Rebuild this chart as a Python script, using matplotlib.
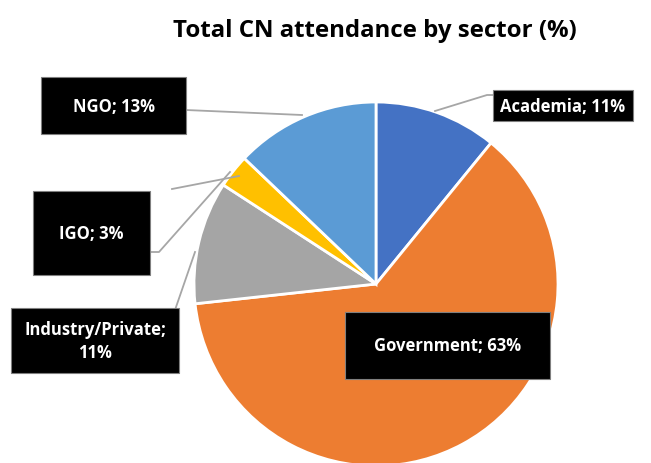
import matplotlib.pyplot as plt
from matplotlib.patches import Rectangle

plt.rcParams.update({
    "font.family": ["Open Sans", "DejaVu Sans"],
    "font.weight": "bold",
})

# attendance share per sector, clockwise from 12 o'clock
sectors = ["Academia", "Government", "Industry/Private", "IGO", "NGO"]
shares = [11, 63, 11, 3, 13]
colors = ["#4472C4", "#ED7D31", "#A5A5A5", "#FFC000", "#5B9BD5"]
label_text = ["Academia; 11%", "Government; 63%", "Industry/Private;\n11%",
              "IGO; 3%", "NGO; 13%"]

# label boxes in pixel space: x0, y0 (top), width, height
boxes = [(493, 91, 140, 31), (345, 313, 205, 67), (11, 309, 168, 65),
         (33, 192, 117, 84), (41, 78, 145, 57)]
# leader lines (pixel polylines)
leaders = [
    [(435, 112), (487, 96), (493, 96)],
    [(165, 340), (195, 253)],
    [(150, 253), (159, 253), (230, 173)],
    [(186, 111), (302, 116)],
    [(172, 190), (239, 177)],
]

W, H = 651, 464
fig = plt.figure(figsize=(W / 100, H / 100), dpi=100)
ax = fig.add_axes([0, 0, 1, 1])


def fy(y):
    return H - y


ax.pie(shares, colors=colors, startangle=90, counterclock=False,
       center=(376, fy(285)), radius=182, frame=True,
       wedgeprops=dict(edgecolor="white", linewidth=2))
ax.set_xlim(0, W)
ax.set_ylim(0, H)
ax.set_aspect("equal")
ax.axis("off")

for pts in leaders:
    xs = [p[0] for p in pts]
    ys = [fy(p[1]) for p in pts]
    ax.plot(xs, ys, color="#A6A6A6", lw=1.3, zorder=3)

for (x0, y0, w, h), txt in zip(boxes, label_text):
    ax.add_patch(Rectangle((x0, fy(y0 + h)), w, h, facecolor="black",
                           edgecolor="#7F7F7F", lw=0.8, zorder=4))
    ax.text(x0 + w / 2, fy(y0 + h / 2), txt, color="white", fontsize=12,
            fontweight="bold", ha="center", va="center", zorder=5,
            linespacing=1.35)

ax.text(375, fy(31), "Total CN attendance by sector (%)", fontsize=17.3,
        fontweight="bold", ha="center", va="center", color="black")

fig.savefig("out.png", dpi=100)
